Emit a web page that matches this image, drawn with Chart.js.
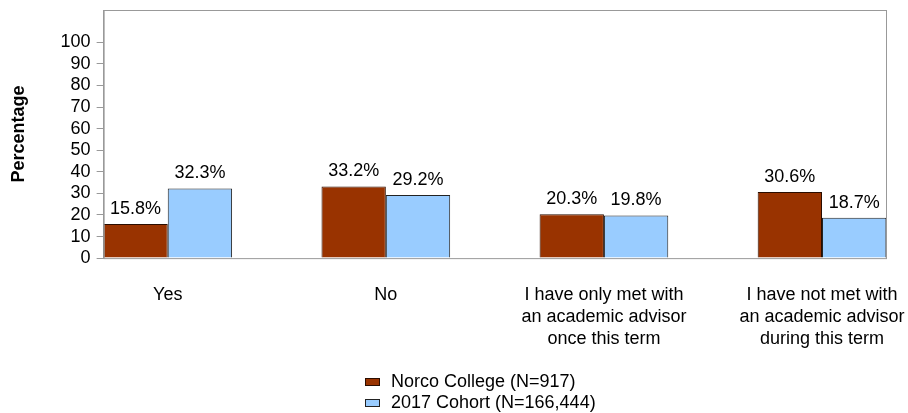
<!DOCTYPE html>
<html lang="en">
  <head>
    <meta charset="utf-8" />
    <title>Academic advisor</title>
    <script src="https://cdn.jsdelivr.net/npm/chart.js@4.4.0/dist/chart.umd.min.js"></script>
    <style>
      body { margin: 0; background: #fff; }
    </style>
  </head>
  <body>
    <canvas id="advisor" width="908" height="413"></canvas>

    <script>
      var categories = [
        ["Yes"],
        ["No"],
        ["I have only met with", "an academic advisor", "once this term"],
        ["I have not met with", "an academic advisor", "during this term"],
      ];
      var seriesNames = ["Norco College (N=917)", "2017 Cohort (N=166,444)"];
      var norco = [15.8, 33.2, 20.3, 30.6];
      var cohort = [32.3, 29.2, 19.8, 18.7];
      var yTicks = [0, 10, 20, 30, 40, 50, 60, 70, 80, 90, 100];

      Chart.defaults.font.family = "'Liberation Sans', Arial, sans-serif";
      Chart.defaults.font.size = 18;
      Chart.defaults.color = "#000";

      function toPoints(values) {
        return values.map(function (v, i) {
          return { x: i, y: v };
        });
      }

      // frame round the plot area
      var frame = {
        id: "frame",
        afterDatasetsDraw: function (chart) {
          var a = chart.chartArea;
          var ctx = chart.ctx;
          ctx.save();
          ctx.strokeStyle = "#999";
          ctx.lineWidth = 1;
          ctx.strokeRect(a.left + 0.5, a.top + 0.5, a.right - a.left - 1, a.bottom - a.top);
          ctx.restore();
        },
      };

      // value labels over the bars
      var valueLabels = {
        id: "valueLabels",
        afterDatasetsDraw: function (chart) {
          var ctx = chart.ctx;
          ctx.save();
          ctx.font = "18px 'Liberation Sans', Arial, sans-serif";
          ctx.fillStyle = "#000";
          ctx.textAlign = "center";
          ctx.textBaseline = "alphabetic";
          chart.data.datasets.forEach(function (ds, di) {
            chart.getDatasetMeta(di).data.forEach(function (bar, i) {
              ctx.fillText(ds.data[i].y.toFixed(1) + "%", bar.x, bar.y - 10);
            });
          });
          ctx.restore();
        },
      };

      // stacked legend under the axis labels
      var stackedLegend = {
        id: "stackedLegend",
        afterDraw: function (chart) {
          var ctx = chart.ctx;
          ctx.save();
          ctx.font = "18px 'Liberation Sans', Arial, sans-serif";
          ctx.textBaseline = "middle";
          ctx.textAlign = "left";
          chart.data.datasets.forEach(function (ds, i) {
            var y = 382 + i * 21;
            ctx.fillStyle = ds.backgroundColor;
            ctx.fillRect(365, y - 4, 15, 8);
            ctx.strokeStyle = ds.borderColor;
            ctx.lineWidth = 1;
            ctx.strokeRect(365.5, y - 3.5, 14, 7);
            ctx.fillStyle = "#000";
            ctx.fillText(ds.label, 391, y);
          });
          ctx.restore();
        },
      };

      var ctx = document.getElementById("advisor").getContext("2d");
      var chart = new Chart(ctx, {
        type: "bar",
        data: {
          datasets: [
            {
              label: seriesNames[0],
              data: toPoints(norco),
              backgroundColor: "#993300",
              borderColor: "#2a0d00",
              borderWidth: 1,
            },
            {
              label: seriesNames[1],
              data: toPoints(cohort),
              backgroundColor: "#99ccff",
              borderColor: "#222",
              borderWidth: 1,
            },
          ],
        },
        options: {
          responsive: false,
          animation: false,
          categoryPercentage: 0.59,
          barPercentage: 1.0,
          layout: {
            padding: { top: 10, right: 21, left: 0, bottom: 63 },
          },
          plugins: {
            legend: { display: false },
            tooltip: { enabled: false },
          },
          scales: {
            x: {
              type: "linear",
              offset: false,
              min: -0.294,
              max: 3.298,
              grid: {
                display: false,
                drawTicks: true,
                tickLength: 26,
                color: "rgba(0,0,0,0)",
                offset: false,
              },
              border: { display: false },
              afterBuildTicks: function (scale) {
                scale.ticks = categories.map(function (c, i) {
                  return { value: i };
                });
              },
              ticks: {
                padding: 0,
                autoSkip: false,
                maxRotation: 0,
                font: { size: 18, lineHeight: 1.22 },
                callback: function (value) {
                  return categories[value];
                },
              },
            },
            y: {
              min: 0,
              max: 115,
              afterBuildTicks: function (scale) {
                scale.ticks = yTicks.map(function (v) {
                  return { value: v };
                });
              },
              grid: {
                drawOnChartArea: false,
                drawTicks: true,
                tickLength: 7,
                color: "#999",
              },
              border: { display: true, color: "#999" },
              ticks: { padding: 6, autoSkip: false, font: { size: 18, lineHeight: 0.4 } },
              title: {
                display: true,
                text: "Percentage",
                font: { size: 18, weight: "bold" },
                padding: { top: 8, bottom: 25 },
              },
            },
          },
        },
        plugins: [frame, valueLabels, stackedLegend],
      });
    </script>
  </body>
</html>
